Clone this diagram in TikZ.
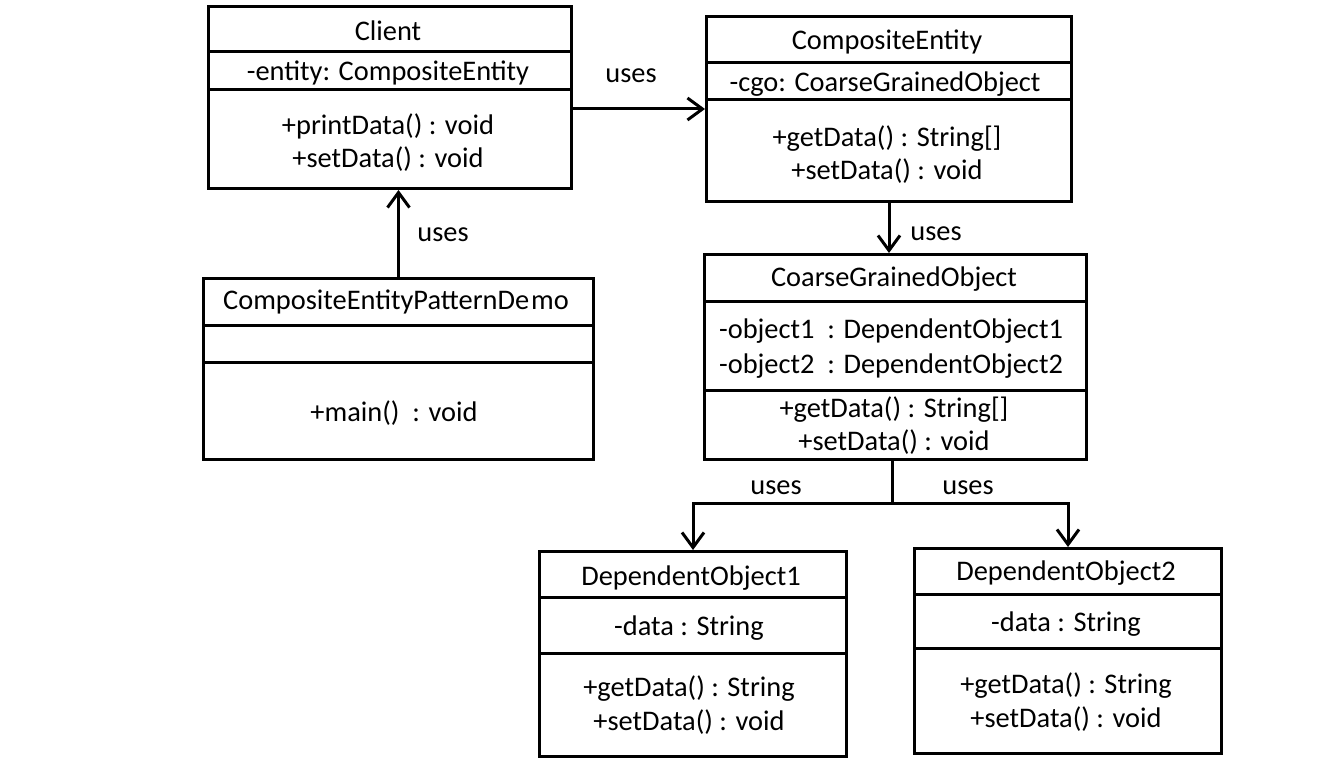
\documentclass[tikz,border=0pt]{standalone}
\usepackage{fontspec}
\setmainfont{Carlito}
\usetikzlibrary{arrows.meta}

\begin{document}
\begin{tikzpicture}[x=0.5pt, y=-0.5pt,
    every node/.style={inner sep=0pt, font=\fontsize{14.2}{16}\selectfont},
    umlbox/.style={draw, line width=1.5pt, anchor=north west},
    divider/.style={line width=1.5pt},
    uses/.style={line width=1.5pt, -{Straight Barb[length=7.5pt,width=11pt,line width=1.5pt]}}]
  \useasboundingbox (0,0) rectangle (1320,780);

  % Client
  \node[umlbox, minimum width=181.5pt, minimum height=91pt] (client) at (207,5) {};
  \draw[divider] (207,52) -- (570,52);
  \draw[divider] (207,90) -- (570,90);
  \node (client-name) at (388,31) {Client};
  \node (client-attr) at (388,73) {-entity: CompositeEntity};
  \node (client-m1) at (388,126) {+printData() : void};
  \node (client-m2) at (388,159) {+setData() : void};

  % CompositeEntity
  \node[umlbox, minimum width=182.5pt, minimum height=92.5pt] (entity) at (705,15) {};
  \draw[divider] (705,63) -- (1070,63);
  \draw[divider] (705,100) -- (1070,100);
  \node (entity-name) at (887,42) {CompositeEntity};
  \node (entity-attr) at (885,84) {-cgo: CoarseGrainedObject};
  \node (entity-m1) at (887,139) {+getData() : String[]};
  \node (entity-m2) at (887,171) {+setData() : void};

  % CompositeEntityPatternDemo
  \node[umlbox, minimum width=195pt, minimum height=90.5pt] (demo) at (202,277) {};
  \draw[divider] (202,325) -- (592,325);
  \draw[divider] (202,362) -- (592,362);
  \node (demo-name) at (396,302) {CompositeEntityPatternDe\kern1pt mo};
  \node (demo-m1) at (394,413) {+main()~ : void};

  % CoarseGrainedObject
  \node[umlbox, minimum width=191pt, minimum height=102.5pt] (cgo) at (703,253) {};
  \draw[divider] (703,302) -- (1085,302);
  \draw[divider] (703,390) -- (1085,390);
  \node (cgo-name) at (894,279) {CoarseGrainedObject};
  \node (cgo-attr1) at (891,331) {-object1~ : DependentObject1};
  \node (cgo-attr2) at (891,366) {-object2~ : DependentObject2};
  \node (cgo-m1) at (894,410) {+getData() : String[]};
  \node (cgo-m2) at (894,442) {+setData() : void};

  % DependentObject1
  \node[umlbox, minimum width=153.5pt, minimum height=102.5pt] (dep1) at (538,550) {};
  \draw[divider] (538,597) -- (845,597);
  \draw[divider] (538,653) -- (845,653);
  \node (dep1-name) at (691,578) {DependentObject1};
  \node (dep1-attr) at (689,628) {-data : String};
  \node (dep1-m1) at (689,689) {+getData() : String};
  \node (dep1-m2) at (689,722) {+setData() : void};

  % DependentObject2
  \node[umlbox, minimum width=153.5pt, minimum height=102.5pt] (dep2) at (913,547) {};
  \draw[divider] (913,594) -- (1220,594);
  \draw[divider] (913,648) -- (1220,648);
  \node (dep2-name) at (1066,573) {DependentObject2};
  \node (dep2-attr) at (1066,624) {-data : String};
  \node (dep2-m1) at (1066,686) {+getData() : String};
  \node (dep2-m2) at (1066,719) {+setData() : void};

  % uses links
  \draw[uses] (client.east |- entity.west) -- (entity.west);
  \node (uses-a) at (631,76) {uses};
  \draw[uses] (demo.north) -- (demo.north |- client.south);
  \node (uses-b) at (443,235) {uses};
  \draw[uses] (entity.south) -- (entity.south |- cgo.north);
  \node (uses-c) at (936,234) {uses};
  \coordinate (fork) at (892,503);
  \draw[uses] (fork |- cgo.south) -- (fork) -| (dep1.north);
  \draw[uses] (fork) -| (dep2.north);
  \node (uses-d) at (776,488) {uses};
  \node (uses-e) at (968,488) {uses};
\end{tikzpicture}
\end{document}
